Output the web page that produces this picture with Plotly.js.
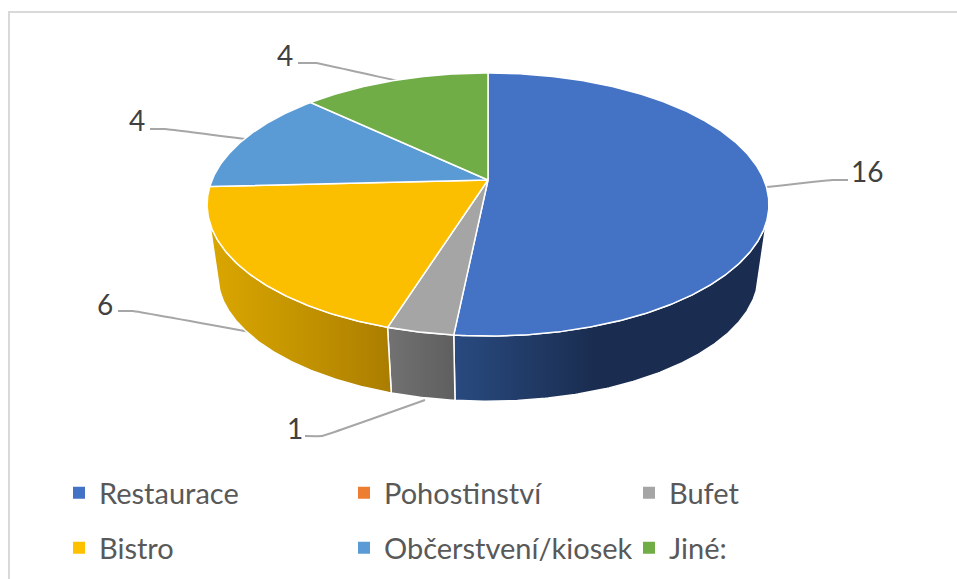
<!DOCTYPE html>
<html><head><meta charset="utf-8">
<script src="https://cdn.plot.ly/plotly-3.0.1.min.js"></script>
<style>html,body{margin:0;padding:0;background:#fff}</style></head>
<body><div id="chart" style="width:957px;height:579px"></div>
<script>
const categories = ['Restaurace','Pohostinství','Bufet','Bistro','Občerstvení/kiosek','Jiné:'];
const values = [16,0,1,6,4,4];
const topColors = ['#4472C4','#ED7D31','#A5A5A5','#FCBF00','#5B9BD5','#70AD47'];
const legendColors = ['#4472C4','#ED7D31','#A5A5A5','#FFC000','#5B9BD5','#70AD47'];
const wallGradients = [
  ['#294A80','#1A2D50','#1A2D50'],
  ['#ED7D31','#ED7D31','#ED7D31'],
  ['#727272','#696969','#5F5F5F'],
  ['#DAA600','#C69600','#AB7D00'],
  ['#5B9BD5','#5B9BD5','#5B9BD5'],
  ['#70AD47','#70AD47','#70AD47']
];
// projection of the pie disc
const CX=488, CY=180, A=276, B=127, K=0.186;
const WALL_S=0.963, WALL_DY=71, WALL_FROM=108, WALL_TO=252;
const rad=d=>d*Math.PI/180;
function disc(t){const u=Math.sin(rad(t)),v=-Math.cos(rad(t)),w=1-K*v;return [A*u/w,B*v/w];}
function rim(t){const p=disc(t);return [CX+p[0],CY+p[1]];}
function low(t){const p=disc(t);return [CX+WALL_S*p[0],CY+WALL_S*p[1]+WALL_DY];}
const total=values.reduce((a,b)=>a+b,0);
const traces=[];
// leader lines
const labels = values.map(String);
const leaderTargets=[[767,187,832,180,848,180],null,[425,400,322,436,305,436],[250,332,133,311,118,311],[245,139,165,129,150,129],[398,81,316,63,298,63]];
const labelPos=[[867,171],null,[295,428],[105,304],[137,120],[285,55]];
leaderTargets.forEach(l=>{ if(!l) return;
  traces.push({type:'scatter',mode:'lines',x:[l[0],l[2],l[4]],y:[l[1],l[3],l[5]],line:{color:'#A6A6A6',width:2,shape:'spline',smoothing:0.2},hoverinfo:'skip',showlegend:false});
});
// slices
let acc=0; const slices=[];
values.forEach((v,i)=>{const a=acc/total*360; acc+=v; slices.push([a,acc/total*360,i]);});
// walls
slices.forEach(([a,b,i])=>{ if(values[i]===0) return;
  const s=Math.max(a,WALL_FROM), e=Math.min(b,WALL_TO); if(e<=s) return;
  const xs=[],ys=[]; const n=Math.ceil((e-s)*2);
  for(let k=0;k<=n;k++){const p=rim(s+(e-s)*k/n);xs.push(p[0]);ys.push(p[1]);}
  for(let k=n;k>=0;k--){const p=low(s+(e-s)*k/n);xs.push(p[0]);ys.push(p[1]);}
  xs.push(xs[0]);ys.push(ys[0]);
  const g=wallGradients[i];
  traces.push({type:'scatter',mode:'lines',x:xs,y:ys,fill:'toself',line:{color:'#fff',width:1.5},
    fillgradient:{type:'horizontal',colorscale:[[0,g[0]],[0.45,g[1]],[1,g[2]]]},hoverinfo:'skip',showlegend:false});
});
// top faces
slices.forEach(([a,b,i])=>{ if(values[i]===0) return;
  const xs=[CX],ys=[CY]; const n=Math.ceil((b-a)*2);
  for(let k=0;k<=n;k++){const p=rim(a+(b-a)*k/n);xs.push(p[0]);ys.push(p[1]);}
  xs.push(CX);ys.push(CY);
  traces.push({type:'scatter',mode:'lines',x:xs,y:ys,fill:'toself',fillcolor:topColors[i],line:{color:'#fff',width:1.5},
    name:categories[i],hoverinfo:'name+text',text:String(values[i]),showlegend:false});
});
// legend entries
categories.forEach((c,i)=>{
  traces.push({type:'scatter',mode:'markers',x:[null],y:[null],name:c,
    marker:{symbol:'square',size:12,color:legendColors[i]},legend:i<3?'legend':'legend2'});
});
const ann=labelPos.map((p,i)=>p?({x:p[0],y:p[1],text:labels[i],showarrow:false,xref:'x',yref:'y',
  font:{family:'Lato, Carlito, sans-serif',size:28,color:'#404040'}}):null).filter(Boolean);
const legBase={orientation:'h',xref:'paper',yref:'paper',xanchor:'left',yanchor:'middle',entrywidth:240,entrywidthmode:'pixels',
  itemwidth:30,bgcolor:'rgba(0,0,0,0)',font:{family:'Lato, Carlito, sans-serif',size:29,color:'#595959'}};
Plotly.newPlot('chart',traces,{
  width:957,height:579,margin:{l:0,r:0,t:0,b:0},paper_bgcolor:'#fff',plot_bgcolor:'#fff',
  xaxis:{range:[0,957],visible:false,fixedrange:true},
  yaxis:{range:[579,0],visible:false,fixedrange:true},
  annotations:ann,
  shapes:[{type:'rect',xref:'x',yref:'y',x0:9,y0:12,x1:1000,y1:600,line:{color:'#D9D9D9',width:2},layer:'below'}],
  showlegend:true,
  legend:Object.assign({},legBase,{x:59/957,y:1-493/579}),
  legend2:Object.assign({},legBase,{x:59/957,y:1-548/579})
},{displayModeBar:false,responsive:false});
</script></body></html>
